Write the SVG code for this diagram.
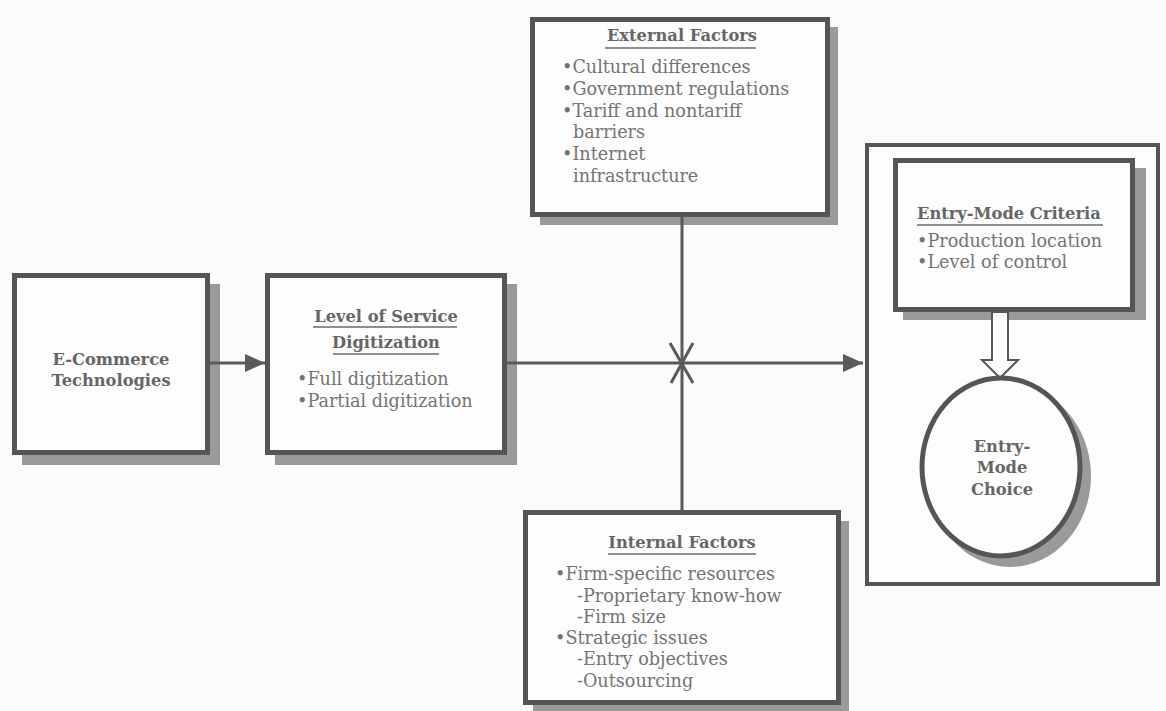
<svg xmlns="http://www.w3.org/2000/svg" width="1166" height="711" viewBox="0 0 1166 711">
  <defs>
    <style>
      .bg { fill: #fbfbfb; }
      .box { fill: #fdfdfd; stroke: #555; stroke-width: 5; }
      .frame { fill: #fdfdfd; stroke: #555; stroke-width: 4; }
      .shadow { fill: #9a9a9a; }
      .line { stroke: #5a5a5a; stroke-width: 3; fill: none; }
      .ul { stroke: #6a6a6a; stroke-width: 1.6; }
      .head { font-family: "DejaVu Serif", "Liberation Serif", serif; font-weight: bold; font-size: 16.3px; fill: #666; }
      .item { font-family: "DejaVu Serif", "Liberation Serif", serif; font-size: 17.6px; fill: #747474; }
      .mid { text-anchor: middle; }
    </style>
    <marker id="arrow" viewBox="0 0 20 18" refX="20" refY="9" markerWidth="20" markerHeight="18" markerUnits="userSpaceOnUse" orient="auto">
      <path d="M0,0 L20,9 L0,18 Z" fill="#5a5a5a"/>
    </marker>
  </defs>

  <rect class="bg" x="0" y="0" width="1166" height="711"/>

  <!-- E-Commerce Technologies -->
  <g id="ecommerce">
    <rect class="shadow" x="22" y="284" width="198" height="181"/>
    <rect class="box" x="14.5" y="275.5" width="193" height="177"/>
    <text class="head mid" x="111" y="365" font-size="17">E-Commerce</text>
    <text class="head mid" x="111" y="386" font-size="17">Technologies</text>
  </g>

  <!-- Level of Service Digitization -->
  <g id="digitization">
    <rect class="shadow" x="275" y="284" width="242" height="181"/>
    <rect class="box" x="267.5" y="275.5" width="237" height="177"/>
    <text class="head mid" x="386" y="322">Level of Service</text>
    <line class="ul" x1="313" y1="327" x2="457" y2="327"/>
    <text class="head mid" x="386" y="348">Digitization</text>
    <line class="ul" x1="333" y1="354" x2="439" y2="354"/>
    <text class="item" x="297" y="385">•Full digitization</text>
    <text class="item" x="297" y="407">•Partial digitization</text>
  </g>

  <!-- External Factors -->
  <g id="external">
    <rect class="shadow" x="540" y="27" width="298" height="198"/>
    <rect class="box" x="532.5" y="19.5" width="295" height="195"/>
    <text class="head mid" x="682" y="41">External Factors</text>
    <line class="ul" x1="605" y1="48" x2="756" y2="48"/>
    <text class="item" x="562" y="73">•Cultural differences</text>
    <text class="item" x="562" y="95">•Government regulations</text>
    <text class="item" x="562" y="117">•Tariff and nontariff</text>
    <text class="item" x="573" y="138">barriers</text>
    <text class="item" x="562" y="160">•Internet</text>
    <text class="item" x="573" y="182">infrastructure</text>
  </g>

  <!-- Internal Factors -->
  <g id="internal">
    <rect class="shadow" x="533" y="521" width="316" height="194"/>
    <rect class="box" x="525.5" y="512.5" width="313" height="190"/>
    <text class="head mid" x="682" y="548">Internal Factors</text>
    <line class="ul" x1="608" y1="554" x2="756" y2="554"/>
    <text class="item" x="555" y="580">•Firm-specific resources</text>
    <text class="item" x="577" y="602">-Proprietary know-how</text>
    <text class="item" x="577" y="623">-Firm size</text>
    <text class="item" x="555" y="644">•Strategic issues</text>
    <text class="item" x="577" y="665">-Entry objectives</text>
    <text class="item" x="577" y="687">-Outsourcing</text>
  </g>

  <!-- Entry-mode panel -->
  <g id="entry-mode">
    <rect class="frame" x="867" y="145" width="291" height="439"/>
    <g id="criteria">
      <rect class="shadow" x="903" y="168" width="243" height="152"/>
      <rect class="box" x="895.5" y="160.5" width="237" height="149"/>
      <text class="head" x="917" y="219">Entry-Mode Criteria</text>
      <line class="ul" x1="917" y1="225" x2="1103" y2="225"/>
      <text class="item" x="917" y="247">•Production location</text>
      <text class="item" x="917" y="268">•Level of control</text>
    </g>
    <!-- hollow block arrow from criteria down to choice -->
    <path d="M992,312 L1008,312 L1008,360 L1018,360 L1000,378 L982,360 L992,360 Z" fill="#fdfdfd" stroke="#555" stroke-width="2"/>
    <g id="choice">
      <ellipse class="shadow" cx="1010" cy="476" rx="81" ry="91"/>
      <ellipse cx="1001" cy="467" rx="79" ry="89" fill="#fdfdfd" stroke="#555" stroke-width="5"/>
      <text class="head mid" x="1002" y="452" font-size="17">Entry-</text>
      <text class="head mid" x="1002" y="473" font-size="17">Mode</text>
      <text class="head mid" x="1002" y="495" font-size="17">Choice</text>
    </g>
  </g>

  <!-- connectors -->
  <g id="connectors">
    <line class="line" x1="210" y1="363" x2="265" y2="363" marker-end="url(#arrow)"/>
    <line class="line" x1="507" y1="363" x2="863" y2="363" marker-end="url(#arrow)"/>
    <line class="line" x1="682" y1="217" x2="682" y2="510"/>
    <line class="line" x1="670" y1="343" x2="693" y2="383"/>
    <line class="line" x1="693" y1="343" x2="671" y2="383"/>
  </g>
</svg>
